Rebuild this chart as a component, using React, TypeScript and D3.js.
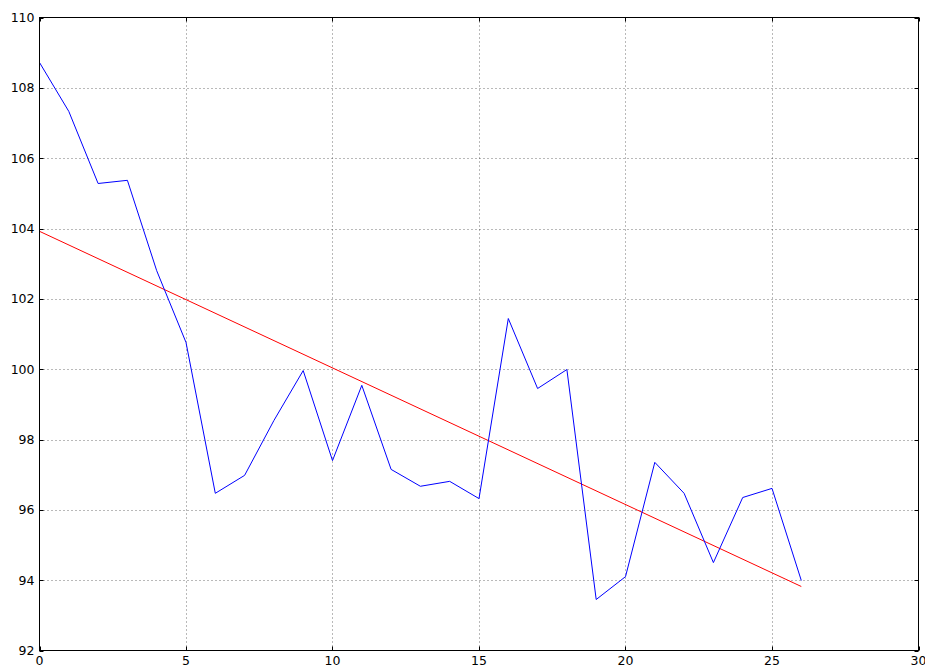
import React from "react";
import * as d3 from "d3";

const xs = [0,1,2,3,4,5,6,7,8,9,10,11,12,13,14,15,16,17,18,19,20,21,22,23,24,25,26];
const blueValues = [108.72,107.33,105.28,105.37,102.8,100.76,96.47,96.98,98.54,99.96,97.4,99.54,97.15,96.67,96.81,96.32,101.44,99.45,99.99,93.45,94.1,97.35,96.47,94.5,96.35,96.61,93.99];
const trendX = [0, 26];
const trendY = [103.92, 93.82];
const xTicks = [0,5,10,15,20,25,30];
const yTicks = [92,94,96,98,100,102,104,106,108,110];

export default function App() {
  const W = 925, H = 665;
  const left = 39.5, right = 918.5, top = 17.5, bottom = 650.5;
  const x = d3.scaleLinear().domain([0, 30]).range([left, right]);
  const y = d3.scaleLinear().domain([92, 110]).range([bottom, top]);
  const line = d3.line<[number, number]>().x(d => x(d[0])).y(d => y(d[1]));
  const blue = line(xs.map((v, i) => [v, blueValues[i]] as [number, number]))!;
  const red = line(trendX.map((v, i) => [v, trendY[i]] as [number, number]))!;
  const font = "'DejaVu Sans', sans-serif";
  return (
    <svg width={W} height={H} style={{ position: "absolute", left: 0, top: 0, background: "#fff" }}>
      <g>
        {xTicks.slice(1, -1).map(t => (
          <line key={"gx" + t} x1={Math.round(x(t)) + 0.5} x2={Math.round(x(t)) + 0.5} y1={top} y2={bottom} stroke="#000" strokeOpacity={0.55} strokeDasharray="1,3" />
        ))}
        {yTicks.slice(1, -1).map(t => (
          <line key={"gy" + t} y1={Math.round(y(t)) + 0.5} y2={Math.round(y(t)) + 0.5} x1={left} x2={right} stroke="#000" strokeOpacity={0.55} strokeDasharray="1,3" />
        ))}
      </g>
      <path d={red} fill="none" stroke="#ff0000" strokeWidth={1} />
      <path d={blue} fill="none" stroke="#0000ff" strokeWidth={1} />
      <rect x={left} y={top} width={right - left} height={bottom - top} fill="none" stroke="#000" strokeWidth={1} />
      {xTicks.map(t => (
        <g key={"tx" + t}>
          <line x1={Math.round(x(t)) + 0.5} x2={Math.round(x(t)) + 0.5} y1={bottom} y2={bottom - 4} stroke="#000" />
          <line x1={Math.round(x(t)) + 0.5} x2={Math.round(x(t)) + 0.5} y1={top} y2={top + 4} stroke="#000" />
          <text x={x(t)} y={bottom + 14} textAnchor="middle" fontFamily={font} fontSize={12.5} fill="#000">{t}</text>
        </g>
      ))}
      {yTicks.map(t => (
        <g key={"ty" + t}>
          <line y1={Math.round(y(t)) + 0.5} y2={Math.round(y(t)) + 0.5} x1={left} x2={left + 4} stroke="#000" />
          <line y1={Math.round(y(t)) + 0.5} y2={Math.round(y(t)) + 0.5} x1={right} x2={right - 4} stroke="#000" />
          <text x={left - 5} y={y(t) + 4.5} textAnchor="end" fontFamily={font} fontSize={12.5} fill="#000">{t}</text>
        </g>
      ))}
    </svg>
  );
}
